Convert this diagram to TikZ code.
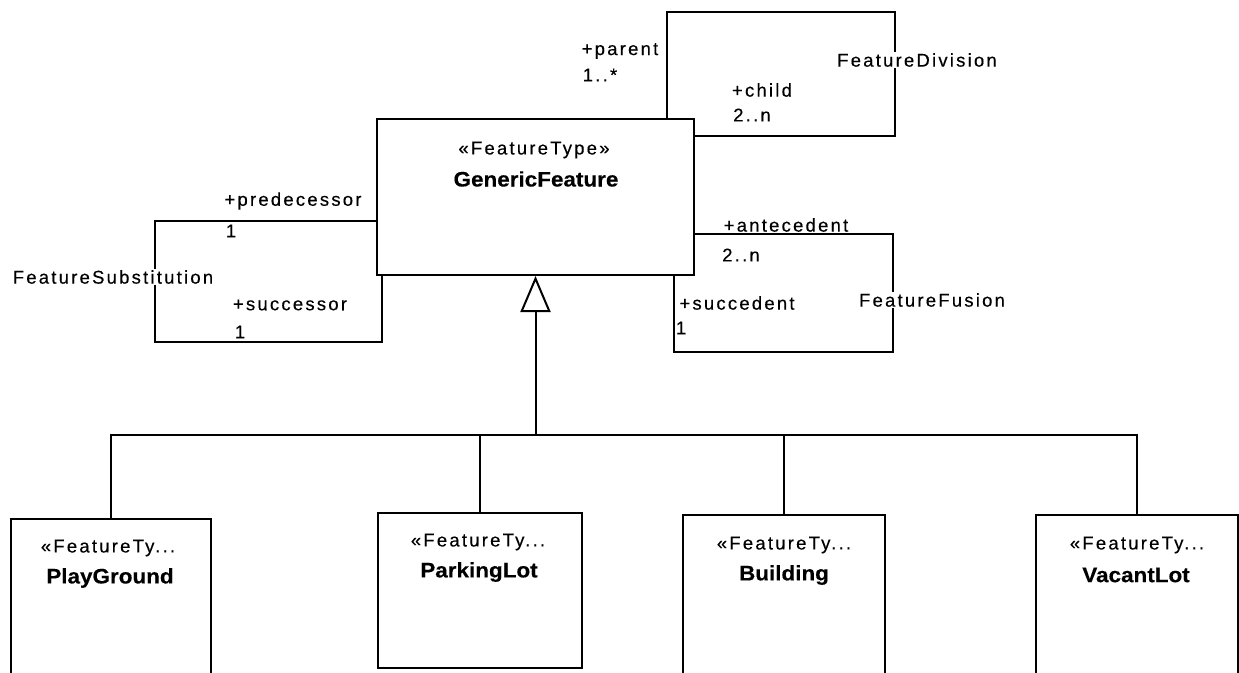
\documentclass[tikz,border=0pt]{standalone}
\usepackage{fontspec}
\setmainfont{Liberation Sans}
\newfontfamily\rosefont[LetterSpace=12,FakeBold=0.3]{Liberation Sans}
\newfontfamily\roseboldfont[FakeStretch=1.07,FakeBold=0.3]{Liberation Sans Bold}
\usetikzlibrary{arrows.meta}
\begin{document}
\begin{tikzpicture}[x=1pt,y=-1pt,line width=2pt,
  cls/.style={draw,line width=2pt,inner sep=0pt},
  role/.style={font=\fontsize{18.5}{20}\selectfont\rosefont,inner sep=1pt},
  rolew/.style={role,fill=white},
  cname/.style={font=\fontsize{21}{23}\selectfont\roseboldfont,inner sep=1pt},
  gentip/.style={-{Triangle[open,length=36pt,width=30pt,line width=2pt]}}]
\clip (0,0) rectangle (1239,672);
\fill[white] (0,0) rectangle (1239,672);
% main class
\node[cls,minimum width=317pt,minimum height=156pt] (gf) at (535.5,197) {};
\node[role] (gfst) at (534,150) {«FeatureType»};
\node[cname] (gfnm) at (536,179) {GenericFeature};
% subclasses
\node[cls,minimum width=200pt,minimum height=170pt] (pg) at (111,604) {};
\node[role] (pgst) at (108,548) {«FeatureTy...};
\node[cname] (pgnm) at (110,578) {PlayGround};
\node[cls,minimum width=204pt,minimum height=155pt] (pl) at (480,590.5) {};
\node[role] (plst) at (478,542) {«FeatureTy...};
\node[cname] (plnm) at (479,572) {ParkingLot};
\node[cls,minimum width=202pt,minimum height=170pt] (bd) at (784,600) {};
\node[role] (bdst) at (784,545) {«FeatureTy...};
\node[cname] (bdnm) at (784,575) {Building};
\node[cls,minimum width=202pt,minimum height=170pt] (vl) at (1137,600) {};
\node[role] (vlst) at (1137,545) {«FeatureTy...};
\node[cname] (vlnm) at (1136,575) {VacantLot};
% generalization
\coordinate (bus) at (535.5,435);
\draw[gentip] (bus) -- (gf.south);
\draw (pg.north) |- (bus -| vl.north) -- (vl.north);
\draw (pl.north) -- (pl.north |- bus);
\draw (bd.north) -- (bd.north |- bus);
% FeatureDivision
\draw ([xshift=291pt]gf.north west) |- (895,12) |- ([yshift=-18pt]gf.north east);
\node[rolew] (fdiv) at (917,60) {FeatureDivision};
\node[role] (parent) at (620,51) {+parent};
\node[role] (parentm) at (600,75) {1..*};
\node[role] (child) at (762,90) {+child};
\node[role] (childm) at (752,115) {2..n};
% FeatureSubstitution
\draw ([yshift=-103pt]gf.north west) -| (155,342) -| ([xshift=6pt]gf.south west);
\node[rolew] (fsub) at (113,277) {FeatureSubstitution};
\node[role] (pred) at (293,201) {+predecessor};
\node[rolew] (predm) at (231,231) {1};
\node[role] (succ) at (290,305) {+successor};
\node[rolew] (succm) at (240,332) {1};
% FeatureFusion
\draw ([yshift=-116pt]gf.north east) -| (893,352) -| ([xshift=-21pt]gf.south east);
\node[rolew] (ffus) at (932,300) {FeatureFusion};
\node[rolew] (ante) at (786,225) {+antecedent};
\node[role] (antem) at (741,255) {2..n};
\node[role] (sced) at (737,303) {+succedent};
\node[role] (scedm) at (681,328) {1};
\end{tikzpicture}
\end{document}
